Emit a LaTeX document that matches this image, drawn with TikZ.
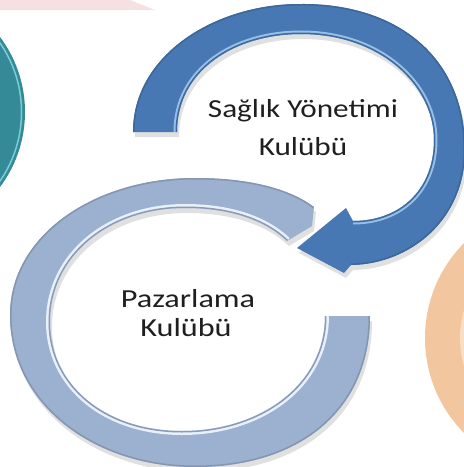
\documentclass[tikz,border=0pt]{standalone}
\usepackage{fontspec}
\setmainfont{Carlito}
\definecolor{blueA}{RGB}{72,120,180}
\definecolor{blueHi}{RGB}{150,192,232}
\definecolor{lrA}{RGB}{156,176,207}
\definecolor{lrHi}{RGB}{232,240,250}
\definecolor{tealA}{RGB}{52,138,150}
\definecolor{tealHi}{RGB}{120,205,215}
\definecolor{peachA}{RGB}{242,198,158}
\definecolor{peachB}{RGB}{249,222,196}
\definecolor{pinkband}{RGB}{245,224,226}
% light ring edges
\newcommand\lrOuter{(370,316) .. controls (370,410) and (300,467) .. (195,467) .. controls (95,467) and (10,405) .. (10,315) .. controls (10,235) and (95,178) .. (195,178) .. controls (250,178) and (290,189) .. (314,207)}
\newcommand\lrInner{(287,241) .. controls (265,220) and (230,208) .. (185,208) .. controls (110,208) and (50,255) .. (50,322) .. controls (50,385) and (105,431) .. (182,431) .. controls (260,431) and (325,385) .. (325,316)}
\newcommand\lrShape{(370,316) .. controls (370,410) and (300,467) .. (195,467) .. controls (95,467) and (10,405) .. (10,315) .. controls (10,235) and (95,178) .. (195,178) .. controls (250,178) and (290,189) .. (314,207) -- (312,226) -- (287,241) .. controls (265,220) and (230,208) .. (185,208) .. controls (110,208) and (50,255) .. (50,322) .. controls (50,385) and (105,431) .. (182,431) .. controls (260,431) and (325,385) .. (325,316) -- cycle}
% blue arrow edges
\newcommand\bOuter{(133,132) .. controls (133,55) and (215,4) .. (300,4) .. controls (395,3) and (465,55) .. (465,150) .. controls (465,220) and (410,264) .. (351,265)}
\newcommand\bInner{(353,221) .. controls (400,221) and (434,190) .. (434,140) .. controls (434,85) and (380,34) .. (301,34) .. controls (235,34) and (177,70) .. (177,132)}
\newcommand\bShape{(133,132) .. controls (133,55) and (215,4) .. (300,4) .. controls (395,3) and (465,55) .. (465,150) .. controls (465,220) and (410,264) .. (351,265) -- (344,273) -- (297,248) -- (346,208) -- (353,221) .. controls (400,221) and (434,190) .. (434,140) .. controls (434,85) and (380,34) .. (301,34) .. controls (235,34) and (177,70) .. (177,132) -- cycle}
\begin{document}
\begin{tikzpicture}[x=1pt,y=-1pt,
  txt/.style={font=\fontsize{26}{30}\selectfont, anchor=base, inner sep=0pt, text=black!88},
  shadowfill/.style={fill=black, opacity=.12}]
\useasboundingbox (0,0) rectangle (464,467);
\clip (0,0) rectangle (464,467);
\fill[white] (0,0) rectangle (464,467);
% background partial shapes
\fill[pinkband] (0,0) -- (130,0) -- (155,10) -- (0,10) -- cycle;
\fill[tealA] (-100,112) circle[radius=125];
\draw[tealHi, line width=1.5] (-100,112) circle[radius=121.5];
\fill[peachA] (560,338) circle[radius=135];
\fill[peachB] (560,338) circle[radius=100];
% shadows
\begin{scope}[shift={(2,5)}]
  \fill[shadowfill] \lrShape;
  \fill[shadowfill] \bShape;
\end{scope}
% light ring
\fill[lrA] \lrShape;
\begin{scope}
  \clip \lrShape;
  \draw[lrHi, line width=8] \lrInner;
  \draw[lrA!88!black, line width=3] \lrInner;
  \draw[lrA!85!black, line width=3] \lrOuter;
\end{scope}
% blue arrow
\fill[blueA] \bShape;
\begin{scope}
  \clip \bShape;
  \draw[blueHi, line width=7] \bInner;
  \draw[blueA!88!black, line width=3] \bInner;
  \draw[blueA!85!black, line width=3] \bOuter;
\end{scope}
% texts
\node[txt] (s1) at (303,117) {\scalebox{1.2}[1]{Sağlık Yönetimi}};
\node[txt] (s2) at (303,155) {\scalebox{1.2}[1]{Kulübü}};
\node[txt] (p1) at (188,307) {\scalebox{1.24}[1]{Pazarlama}};
\node[txt] (p2) at (186,336) {\scalebox{1.24}[1]{Kulübü}};
\end{tikzpicture}
\end{document}
